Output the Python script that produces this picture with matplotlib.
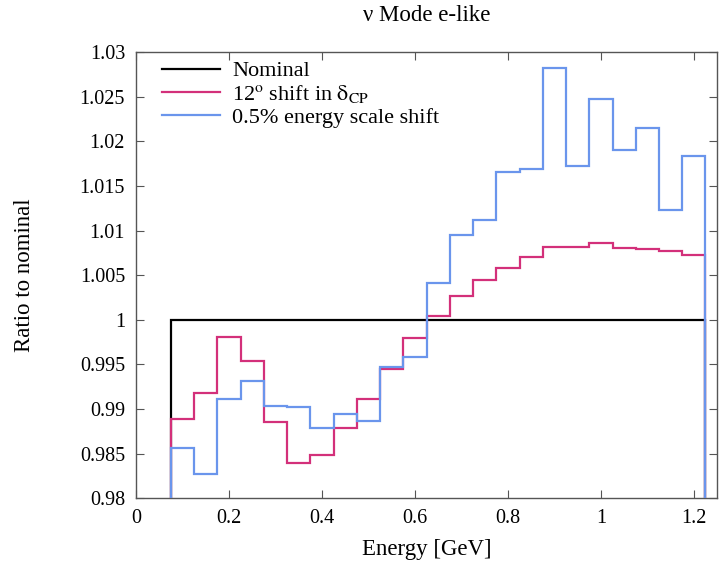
import matplotlib
matplotlib.use("Agg")
import matplotlib.pyplot as plt
from matplotlib.lines import Line2D
from matplotlib.ticker import FuncFormatter
import numpy as np

plt.rcParams['font.family'] = ['Liberation Serif', 'DejaVu Serif']
plt.rcParams['mathtext.fontset'] = 'stix'

# Energy bin edges [GeV]
bin_edges = [0.075, 0.125, 0.175, 0.225, 0.275, 0.325, 0.375, 0.425,
             0.475, 0.525, 0.575, 0.625, 0.675, 0.725, 0.775, 0.825,
             0.875, 0.925, 0.975, 1.025, 1.075, 1.125, 1.175, 1.225]

# Ratios to nominal, one per bin
nominal = [1.0] * 23
dcp_shift = [0.9889, 0.9918, 0.9981, 0.9954, 0.9885, 0.9839, 0.9848,
             0.9879, 0.9911, 0.9945, 0.9979, 1.0004, 1.0027, 1.0045,
             1.0058, 1.0070, 1.0081, 1.0082, 1.0086, 1.0080, 1.0079,
             1.0077, 1.0072]
escale_shift = [0.9856, 0.9827, 0.9911, 0.9931, 0.9903, 0.9902, 0.9879,
                0.9894, 0.9887, 0.9947, 0.9958, 1.0041, 1.0095, 1.0112,
                1.0165, 1.0169, 1.0282, 1.0172, 1.0247, 1.0190, 1.0215,
                1.0123, 1.0184]

c_nom = 'black'
c_dcp = '#d3307a'
c_esc = '#6a95ec'

fig = plt.figure(figsize=(7.2, 5.78), dpi=100)
ax = fig.add_axes([0.189, 0.138, 0.807, 0.772])

ax.stairs(nominal, bin_edges, baseline=0.98, color=c_nom, lw=1.6, zorder=2)
ax.stairs(dcp_shift, bin_edges, baseline=0.98, color=c_dcp, lw=1.6, zorder=3)
ax.stairs(escale_shift, bin_edges, baseline=0.98, color=c_esc, lw=1.6, zorder=4)

ax.set_xlim(0, 1.25)
ax.set_ylim(0.98, 1.03)
ax.set_xticks(np.arange(0, 1.21, 0.2))
ax.set_yticks(np.arange(0.98, 1.0301, 0.005))
fmt = FuncFormatter(lambda v, p: '%g' % round(v, 4))
ax.xaxis.set_major_formatter(fmt)
ax.yaxis.set_major_formatter(fmt)
ax.tick_params(direction='in', length=6, width=0.8, color='#555555',
               top=True, right=True, labelsize=14.5, pad=8)
for s in ax.spines.values():
    s.set_color('#555555')
    s.set_linewidth(1.0)

ax.set_xlabel('Energy [GeV]', fontsize=16.5, labelpad=8)
ax.set_ylabel('Ratio to nominal', fontsize=16.5, labelpad=32)
ax.set_title('ν Mode e-like', fontsize=16.5, pad=22)

handles = [Line2D([], [], color=c_nom, lw=1.6),
           Line2D([], [], color=c_dcp, lw=1.6),
           Line2D([], [], color=c_esc, lw=1.6)]
labels = ['Nominal', r'12$^{\mathrm{o}}$ shift in $\mathrm{δ}_{\mathrm{CP}}$',
          '0.5% energy scale shift']
ax.legend(handles, labels, loc='upper left', frameon=False, fontsize=16,
          handlelength=2.6, handletextpad=0.55, labelspacing=0.08,
          borderaxespad=0.0, bbox_to_anchor=(0.03, 1.0))

fig.savefig('out.png', dpi=100)
